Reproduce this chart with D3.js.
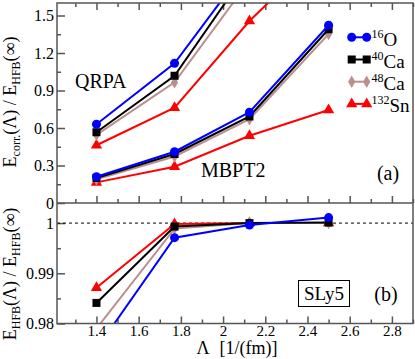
<!DOCTYPE html>
<html><head><meta charset="utf-8">
<script src="https://cdn.jsdelivr.net/npm/d3@7/dist/d3.min.js"></script>
<style>body{margin:0;background:#fff}svg{display:block}svg text{font-family:'Liberation Serif','Times New Roman','DejaVu Serif',serif !important}</style>
</head><body><svg id="c" width="415" height="359"></svg>
<script>
// ---- data ----
const lambdas = [1.4, 1.77, 2.125, 2.5];
const nuclei = ["16O", "40Ca", "48Ca", "132Sn"];
const qrpaO16 = [0.63, 1.118, 1.92, 2.9];
const qrpaCa40 = [0.566, 1.018, 1.88, 2.85];
const qrpaCa48 = [0.545, 0.965, 1.78, 2.75];
const qrpaSn132 = [0.462, 0.762, 1.456, 2.07];
const mbptO16 = [0.21, 0.41, 0.726, 1.422];
const mbptCa40 = [0.2, 0.392, 0.692, 1.39];
const mbptCa48 = [0.19, 0.372, 0.67, 1.352];
const mbptSn132 = [0.165, 0.29, 0.538, 0.744];
const hfbO16 = [0.9749, 0.9971, 0.9996, 1.0011];
const hfbCa40 = [0.9841, 0.9993, 1.0000, 1.0001];
const hfbCa48 = [0.979, 0.9989, 1.0000, 1.0000];
const hfbSn132 = [0.98714, 0.9998, 1.0000, 1.0000];
const xTicks = [1.4, 1.6, 1.8, 2.0, 2.2, 2.4, 2.6, 2.8];
const yTopTicks = [0, 0.3, 0.6, 0.9, 1.2, 1.5];
const yBotTicks = [0.98, 0.99, 1];

const colors = ["#0000ff", "#000000", "#bc8f8f", "#ff0000"];
const shapes = ["circle", "square", "diamond", "triangle"];
const FONT = "'Liberation Serif','Times New Roman','DejaVu Serif',serif";

const svg = d3.select("#c");
const L = 57, R = 413, T = 3, M = 203, B = 323.5;
const x = d3.scaleLinear().domain([1.213, 2.9]).range([L, R]);
const yT = d3.scaleLinear().domain([0, 1.6]).range([M, T]);
const yB = d3.scaleLinear().domain([0.98, 1.004]).range([B, M]);
const axisCol = "#555";

const defs = svg.append("defs");
defs.append("clipPath").attr("id", "cpT").append("rect").attr("x", L).attr("y", T).attr("width", R - L).attr("height", M - T);
defs.append("clipPath").attr("id", "cpB").append("rect").attr("x", L).attr("y", M).attr("width", R - L).attr("height", B - M);

function styleAxis(g, fs) {
  g.attr("font-family", FONT);
  g.select(".domain").remove();
  g.selectAll(".tick line").attr("stroke", axisCol).attr("stroke-width", 1.5);
  g.selectAll("text").attr("fill", "#000").attr("font-family", FONT).style("font-size", fs + "px");
}
const minorX = d3.range(13, 30).map(d => d / 10).filter(v => !xTicks.some(t => Math.abs(t - v) < 1e-6));

[[d3.axisTop, T], [d3.axisBottom, M]].forEach(([ax, yy]) => {
  svg.append("g").attr("transform", `translate(0,${yy})`).call(ax(x).tickValues(xTicks).tickSize(-7).tickFormat("")).call(g => styleAxis(g, 15));
  svg.append("g").attr("transform", `translate(0,${yy})`).call(ax(x).tickValues(minorX).tickSize(-4).tickFormat("")).call(g => styleAxis(g, 15));
});
svg.append("g").attr("transform", `translate(0,${B})`).call(d3.axisBottom(x).tickValues(xTicks).tickSize(-7).tickPadding(2).tickFormat(d => d === 2 ? "2" : d3.format(".1f")(d))).call(g => styleAxis(g, 15));
svg.append("g").attr("transform", `translate(0,${B})`).call(d3.axisBottom(x).tickValues(minorX).tickSize(-4).tickFormat("")).call(g => styleAxis(g, 15));
svg.append("g").attr("transform", `translate(${L},0)`).call(d3.axisLeft(yT).tickValues(yTopTicks).tickSize(-8).tickPadding(3).tickFormat(d => d === 0 ? "0" : d3.format(".1f")(d))).call(g => styleAxis(g, 16));
svg.append("g").attr("transform", `translate(${L},0)`).call(d3.axisLeft(yT).tickValues([0.15, 0.45, 0.75, 1.05, 1.35]).tickSize(-4).tickFormat("")).call(g => styleAxis(g, 16));
svg.append("g").attr("transform", `translate(${L},0)`).call(d3.axisLeft(yB).tickValues(yBotTicks).tickSize(-8).tickPadding(3).tickFormat(d => d === 1 ? "1" : d3.format(".2f")(d))).call(g => styleAxis(g, 16));
svg.append("g").attr("transform", `translate(${L},0)`).call(d3.axisLeft(yB).tickValues([0.985, 0.995]).tickSize(-4).tickFormat("")).call(g => styleAxis(g, 16));

svg.append("line").attr("x1", L).attr("x2", R).attr("y1", yB(1)).attr("y2", yB(1)).attr("stroke", "#000").attr("stroke-width", 1).attr("stroke-dasharray", "3,3");

function marker(g, shape, cx, cy, col) {
  if (shape === "circle") g.append("circle").attr("cx", cx).attr("cy", cy).attr("r", 4.5).attr("fill", col);
  else if (shape === "square") g.append("rect").attr("x", cx - 4).attr("y", cy - 4).attr("width", 8).attr("height", 8).attr("fill", col);
  else g.append("path").attr("transform", `translate(${cx},${cy})`).attr("d", d3.symbol().type(shape === "diamond" ? d3.symbolDiamond : d3.symbolTriangle).size(shape === "diamond" ? 45 : 55)()).attr("fill", col);
}

function series(clip, ys, vals, col, shape) {
  const g = svg.append("g").attr("clip-path", `url(#${clip})`);
  const pts = lambdas.map((l, i) => [x(l), ys(vals[i])]);
  g.append("path").attr("d", d3.line()(pts)).attr("fill", "none").attr("stroke", col).attr("stroke-width", 2);
  pts.forEach(p => marker(g, shape, p[0], p[1], col));
}
const qrpa = [qrpaO16, qrpaCa40, qrpaCa48, qrpaSn132];
const mbpt = [mbptO16, mbptCa40, mbptCa48, mbptSn132];
const hfb = [hfbO16, hfbCa40, hfbCa48, hfbSn132];
[3, 2, 1, 0].forEach(i => {
  series("cpT", yT, qrpa[i], colors[i], shapes[i]);
  series("cpT", yT, mbpt[i], colors[i], shapes[i]);
  series("cpB", yB, hfb[i], colors[i], shapes[i]);
});

svg.append("rect").attr("x", L).attr("y", T).attr("width", R - L).attr("height", B - T).attr("fill", "none").attr("stroke", axisCol).attr("stroke-width", 1.5);
svg.append("line").attr("x1", L).attr("x2", R).attr("y1", M).attr("y2", M).attr("stroke", axisCol).attr("stroke-width", 1.5);

function txt(xx, yy, s, fs, anchor) {
  return svg.append("text").attr("x", xx).attr("y", yy).attr("font-family", FONT).style("font-size", fs + "px").attr("text-anchor", anchor || "start").text(s);
}

nuclei.forEach((n, i) => {
  const yy = 37.3 + i * 22.2;
  const g = svg.append("g");
  g.append("line").attr("x1", 351.7).attr("x2", 366.7).attr("y1", yy).attr("y2", yy).attr("stroke", colors[i]).attr("stroke-width", 2);
  marker(g, shapes[i], 351.7, yy, colors[i]);
  marker(g, shapes[i], 366.7, yy, colors[i]);
  const m = n.match(/^(\d+)(\D+)$/);
  const t = g.append("text").attr("x", 371.5).attr("y", yy + 8.5).attr("font-family", FONT).style("font-size", "19px");
  t.append("tspan").text(m[1]).style("font-size", "12px").attr("dy", -8);
  t.append("tspan").text(m[2]).attr("dy", 8);
});

txt(75, 88, "QRPA", 20);
txt(201, 176.5, "MBPT2", 20);
txt(388, 180, "(a)", 20, "middle");
txt(386, 301, "(b)", 20, "middle");
svg.append("rect").attr("x", 298.5).attr("y", 280.5).attr("width", 51).attr("height", 26).attr("fill", "none").attr("stroke", "#000").attr("stroke-width", 1);
txt(324, 300, "SLy5", 19, "middle");

const xt = svg.append("text").attr("x", 237).attr("y", 354).attr("text-anchor", "middle").attr("font-family", FONT).style("font-size", "18px");
xt.append("tspan").text("Λ");
xt.append("tspan").text("  [1/(fm)]").attr("dx", 6);

function ytitle(cy, parts) {
  const t = svg.append("text").attr("transform", `translate(16,${cy}) rotate(-90)`).attr("text-anchor", "middle").attr("font-family", FONT).style("font-size", "18px");
  parts.forEach(([s, sub]) => {
    const sp = t.append("tspan").text(s);
    if (sub) sp.style("font-size", "12px").attr("baseline-shift", "-30%");
  });
}
ytitle(102, [["E"], ["corr.", 1], ["(Λ) / E"], ["HFB", 1], ["(∞)"]]);
ytitle(274, [["E"], ["HFB", 1], ["(Λ) / E"], ["HFB", 1], ["(∞)"]]);
</script></body></html>
